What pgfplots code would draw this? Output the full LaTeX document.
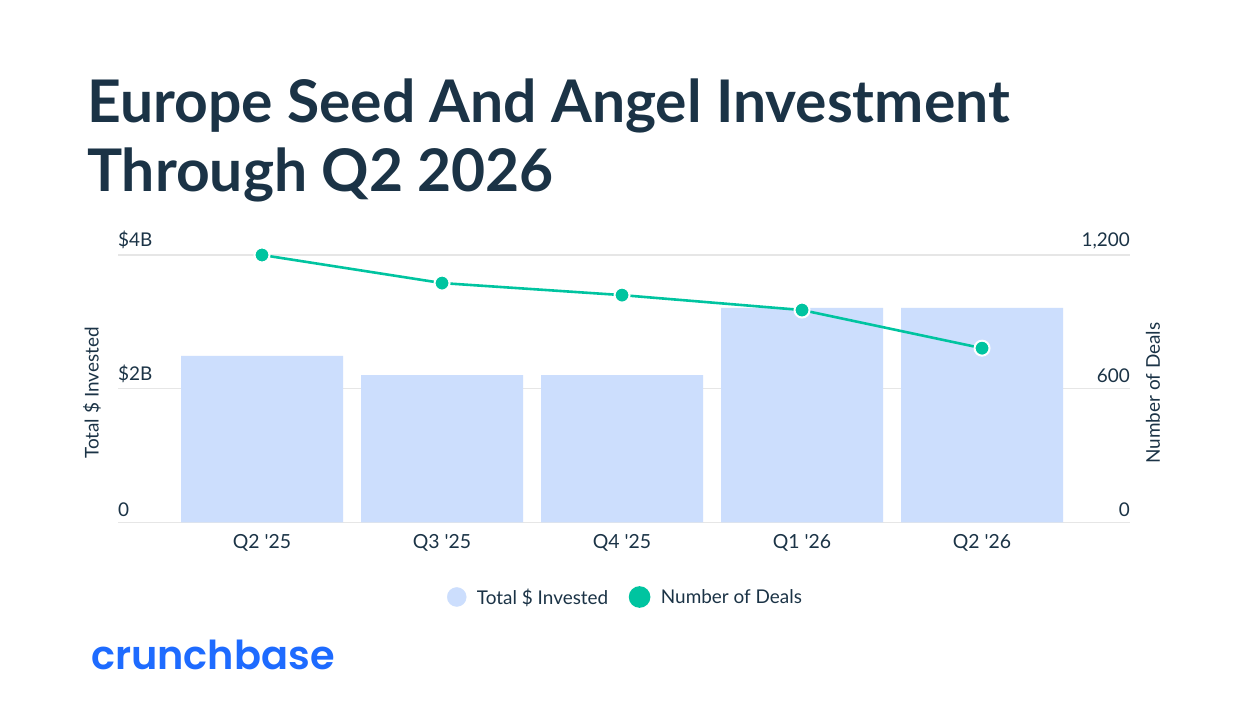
\documentclass[border=0pt]{standalone}
\usepackage{fontspec}
\setmainfont{Lato}
\newfontfamily\lato{Lato}
\newfontfamily\latob{Lato Bold}
\newfontfamily\pop{Poppins SemiBold}
\usepackage{pgfplots}
\pgfplotsset{compat=1.18}
\definecolor{navy}{HTML}{1B3346}
\definecolor{barblue}{HTML}{CCDEFD}
\definecolor{dealteal}{HTML}{00C4A0}
\definecolor{gridc}{HTML}{E6E6E6}
\definecolor{cbblue}{HTML}{1E6BFF}
\begin{document}
\begin{tikzpicture}[x=1bp,y=1bp]
\fill[white] (0,0) rectangle (1256,720);
% title
\node[anchor=base west, inner sep=0, text=navy, font=\latob\fontsize{59}{59}\selectfont] at (87,597) {Europe Seed And Angel Investment};
\node[anchor=base west, inner sep=0, text=navy, font=\latob\fontsize{59}{59}\selectfont] at (87,528) {Through Q2 2026};
% axis titles
\node[rotate=90, inner sep=0, text=navy, font=\lato\fontsize{19}{19}\selectfont] at (92,327) {Total \$ Invested};
\node[rotate=90, inner sep=0, text=navy, font=\lato\fontsize{19}{19}\selectfont] at (1153,327) {Number of Deals};
% logo
\node[anchor=base west, inner sep=0, text=cbblue, font=\pop\fontsize{40}{40}\selectfont] at (91,50) {crunchbase};

\begin{axis}[
  at={(118bp,197.5bp)}, anchor=south west,
  scale only axis, width=1012bp, height=267.5bp,
  xmin=-0.8, xmax=4.822, ymin=0, ymax=4,
  clip=false,
  axis line style={draw=none},
  major tick length=0pt,
  xtick={0,1,2,3,4},
  xticklabels={Q2 '25,Q3 '25,Q4 '25,Q1 '26,Q2 '26},
  ytick={0,2,4},
  yticklabels={0,\$2B,\$4B},
  ymajorgrids, grid style={gridc, line width=1.2bp},
  xticklabel style={font=\lato\fontsize{19.5}{19.5}\selectfont, text=navy, inner sep=0pt, anchor=north, yshift=-12bp},
  yticklabel style={font=\lato\fontsize{19}{19}\selectfont, text=navy, inner sep=0pt, anchor=south west, yshift=6bp},
]
\addplot[ybar, bar width=0.9, fill=barblue, draw=none] coordinates {(0,2.49) (1,2.205) (2,2.205) (3,3.21) (4,3.21)};
\end{axis}

\begin{axis}[
  at={(118bp,197.5bp)}, anchor=south west,
  scale only axis, width=1012bp, height=267.5bp,
  xmin=-0.8, xmax=4.822, ymin=0, ymax=1200,
  clip=false,
  axis x line=none,
  axis y line*=right,
  axis line style={draw=none},
  major tick length=0pt,
  ytick={0,600,1200},
  yticklabels={0,600,{1,200}},
  yticklabel style={font=\lato\fontsize{19}{19}\selectfont, text=navy, inner sep=0pt, anchor=south east, yshift=6bp},
  legend columns=2,
  legend style={at={(axis description cs:0.5005,-0.2785)}, anchor=center, draw=none, fill=none,
    font=\lato\fontsize{19}{19}\selectfont, text=navy, inner sep=0pt,
    nodes={inner sep=0pt, anchor=west},
    /tikz/every odd column/.append style={column sep=10.5bp},
    /tikz/every even column/.append style={column sep=20.5bp}},
]
\addlegendimage{legend image code/.code={\fill[barblue] (0bp,0bp) circle (9.5bp);}}
\addlegendentry{Total \$ Invested}
\addplot[dealteal, line width=2.6bp, mark=*, mark size=7.5bp,
  mark options={fill=dealteal, draw=white, line width=2bp},
  legend image code/.code={\fill[dealteal] (0bp,0bp) circle (9.5bp);}]
  coordinates {(0,1200) (1,1074) (2,1020) (3,953) (4,782)};
\addlegendentry{Number of Deals}
\end{axis}
\pgfresetboundingbox
\useasboundingbox (0,0) rectangle (1256,720);
\end{tikzpicture}
\end{document}
